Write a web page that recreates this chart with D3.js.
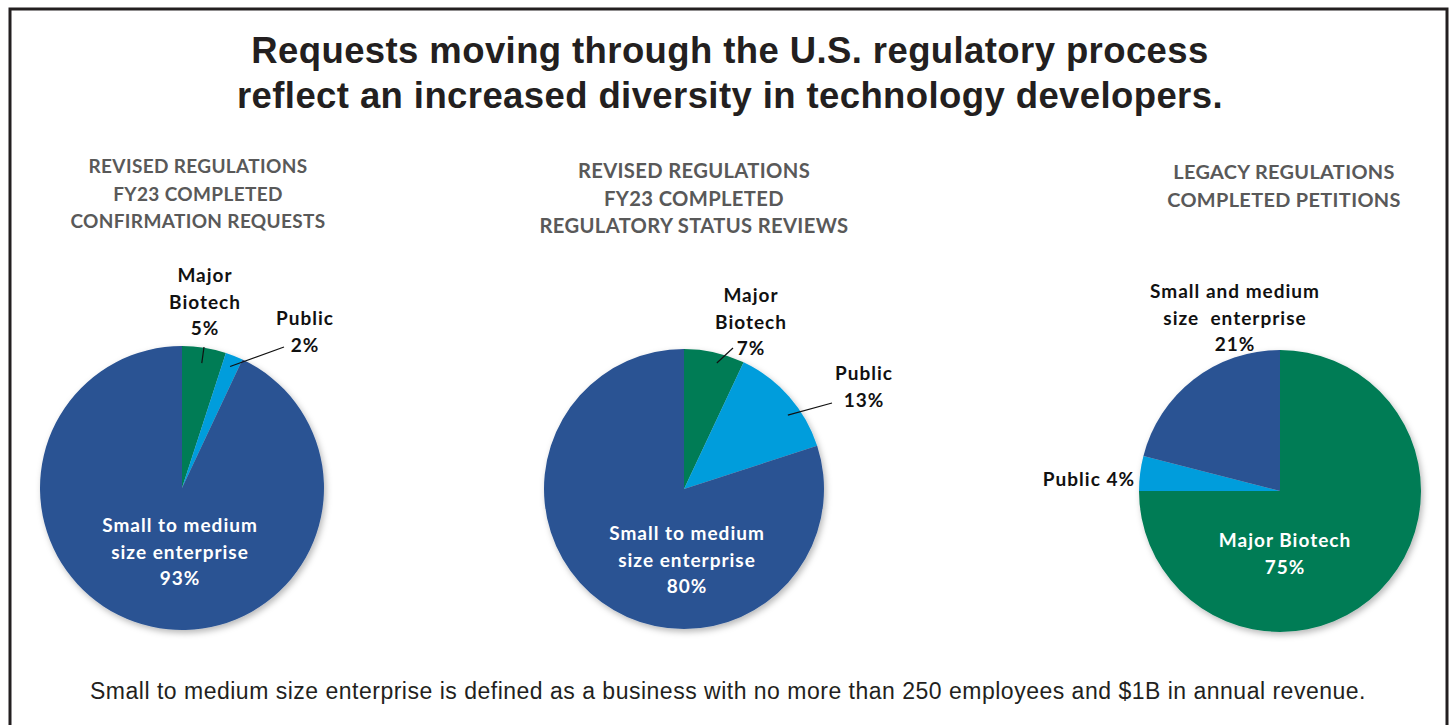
<!DOCTYPE html>
<html>
<head>
<meta charset="utf-8">
<script src="https://cdn.jsdelivr.net/npm/d3@7"></script>
<style>
  body { margin: 0; background: #fff; }
  svg { display: block; }
</style>
</head>
<body>
<div id="chart"></div>
<script>
// chart data
const titleLines = ['Requests moving through the U.S. regulatory process',
  'reflect an increased diversity in technology developers.'];
const footnote = 'Small to medium size enterprise is defined as a business with no more than 250 employees and $1B in annual revenue.';

const pie1Title = ['REVISED REGULATIONS', 'FY23 COMPLETED', 'CONFIRMATION REQUESTS'];
const pie1Keys = ['major', 'public', 'sme'];
const pie1Values = [5, 2, 93];

const pie2Title = ['REVISED REGULATIONS', 'FY23 COMPLETED', 'REGULATORY STATUS REVIEWS'];
const pie2Keys = ['major', 'public', 'sme'];
const pie2Values = [7, 13, 80];

const pie3Title = ['LEGACY REGULATIONS', 'COMPLETED PETITIONS'];
const pie3Keys = ['major', 'public', 'sme'];
const pie3Values = [75, 4, 21];

const colors = { major: '#007b55', public: '#009ddc', sme: '#2a5393' };

const W = 1450, H = 725;
const svg = d3.select('#chart').append('svg').attr('width', W).attr('height', H);

const defs = svg.append('defs');
defs.append('filter').attr('id', 'shadow')
  .attr('x', '-10%').attr('y', '-10%').attr('width', '125%').attr('height', '125%')
  .append('feDropShadow')
  .attr('dx', 2).attr('dy', 3).attr('stdDeviation', 3)
  .attr('flood-color', '#000').attr('flood-opacity', 0.28);

// outer frame
svg.append('rect')
  .attr('x', 10).attr('y', 9).attr('width', 1437).attr('height', 740)
  .attr('fill', 'none').attr('stroke', '#231f20').attr('stroke-width', 3);

// headline
svg.append('g').selectAll('text').data(titleLines).join('text')
  .attr('x', 730).attr('y', (d, i) => 63 + i * 45)
  .attr('text-anchor', 'middle')
  .attr('font-family', 'Liberation Sans, Arial, sans-serif')
  .attr('font-weight', 'bold').attr('font-size', 36.5)
  .attr('letter-spacing', 0.4)
  .attr('fill', '#231f20')
  .text(d => d);

svg.append('text')
  .attr('x', 728).attr('y', 699)
  .attr('text-anchor', 'middle')
  .attr('font-family', 'Liberation Sans, Arial, sans-serif')
  .attr('font-size', 23).attr('letter-spacing', 0.5).attr('fill', '#231f20')
  .text(footnote);

const labelFont = 'Lato, Calibri, sans-serif';

function drawPie(opt) {
  const g = svg.append('g').attr('transform', `translate(${opt.cx},${opt.cy})`);
  const data = opt.keys.map((k, i) => ({ key: k, value: opt.values[i] }));
  const pie = d3.pie().value(d => d.value).sort(null);
  const arcs = pie(data);
  const arc = d3.arc().innerRadius(0).outerRadius(opt.r);

  g.append('g').attr('filter', 'url(#shadow)')
    .selectAll('path').data(arcs).join('path')
    .attr('d', arc)
    .attr('fill', d => colors[d.data.key]);

  // subtitle
  svg.append('g').selectAll('text').data(opt.title).join('text')
    .attr('x', opt.tx).attr('y', (d, i) => opt.ty + i * 27.5)
    .attr('text-anchor', 'middle')
    .attr('font-family', labelFont).attr('font-weight', 'bold')
    .attr('font-size', opt.tsize).attr('letter-spacing', 0.35)
    .attr('fill', '#595959')
    .text(d => d);

  // slice labels
  opt.labels.forEach(lb => {
    const a = arcs.find(d => d.data.key === lb.key);
    const val = a.data.value + '%';
    const lines = lb.lines.map(s => s.replace('{v}', val));
    svg.append('g').selectAll('text').data(lines).join('text')
      .attr('x', lb.x).attr('y', (d, i) => lb.y + i * 26.5)
      .attr('text-anchor', lb.anchor || 'middle')
      .attr('font-family', labelFont).attr('font-weight', 'bold')
      .attr('font-size', 19).attr('letter-spacing', 1)
      .attr('xml:space', 'preserve')
      .attr('fill', lb.color || '#111')
      .text(d => d);
    if (lb.line) {
      // leader starts inside the slice, near its rim
      const mid = (a.startAngle + a.endAngle) / 2 + (lb.shift || 0) * Math.PI / 180;
      const rr = opt.r * (lb.depth || 0.9);
      svg.append('line')
        .attr('x1', opt.cx + rr * Math.sin(mid)).attr('y1', opt.cy - rr * Math.cos(mid))
        .attr('x2', lb.line[0]).attr('y2', lb.line[1])
        .attr('stroke', '#111').attr('stroke-width', 1.2);
    }
  });
}

drawPie({
  cx: 182, cy: 488, r: 142, keys: pie1Keys, values: pie1Values,
  title: pie1Title, tx: 198, ty: 173, tsize: 19,
  labels: [
    { key: 'major', lines: ['Major', 'Biotech', '{v}'], x: 205, y: 282, line: [204, 347], depth: 0.89 },
    { key: 'public', lines: ['Public', '{v}'], x: 305, y: 325, line: [284, 347], depth: 0.92 },
    { key: 'sme', lines: ['Small to medium', 'size enterprise', '{v}'], x: 180, y: 532, color: '#fff' }
  ]
});

drawPie({
  cx: 684, cy: 489, r: 140, keys: pie2Keys, values: pie2Values,
  title: pie2Title, tx: 694, ty: 178, tsize: 20.2,
  labels: [
    { key: 'major', lines: ['Major', 'Biotech', '{v}'], x: 751, y: 302, line: [733, 348], shift: 2, depth: 0.93 },
    { key: 'public', lines: ['Public', '{v}'], x: 864, y: 380, line: [832, 403], shift: 6, depth: 0.91 },
    { key: 'sme', lines: ['Small to medium', 'size enterprise', '{v}'], x: 687, y: 540, color: '#fff' }
  ]
});

drawPie({
  cx: 1280, cy: 491, r: 141, keys: pie3Keys, values: pie3Values,
  title: pie3Title, tx: 1284, ty: 179, tsize: 19.9,
  labels: [
    { key: 'sme', lines: ['Small and medium', 'size  enterprise', '{v}'], x: 1235, y: 298 },
    { key: 'public', lines: ['Public {v}'], x: 1135, y: 486, anchor: 'end' },
    { key: 'major', lines: ['Major Biotech', '{v}'], x: 1285, y: 547, color: '#fff' }
  ]
});
</script>
</body>
</html>
